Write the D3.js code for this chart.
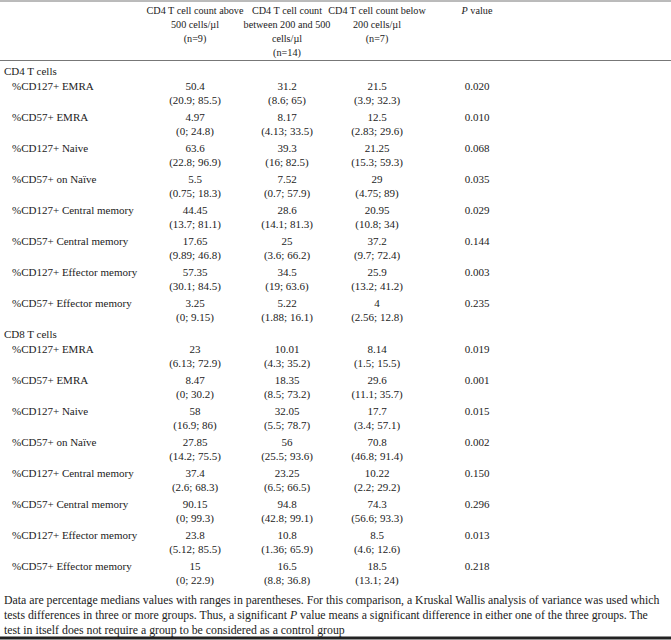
<!DOCTYPE html>
<html>
<head>
<meta charset="utf-8">
<script src="https://cdn.jsdelivr.net/npm/d3@7"></script>
<style>
  body { margin: 0; background: #fff; }
  svg text { font-family: "Liberation Serif", "DejaVu Serif", serif; font-size: 11px; fill: #222; }
  svg text.head { font-size: 10.2px; }
  svg text.note { font-size: 11.8px; }
</style>
</head>
<body>
<svg id="table" width="671" height="640"></svg>
<script>
// column headers (one array of lines per column)
const colHeaders = [
  ["CD4 T cell count above", "500 cells/\u00b5l", "(n=9)"],
  ["CD4 T cell count", "between 200 and 500", "cells/\u00b5l", "(n=14)"],
  ["CD4 T cell count below", "200 cells/\u00b5l", "(n=7)"]
];

const groups = ["CD4 T cells", "CD8 T cells"];
const markers = [
  "%CD127+ EMRA", "%CD57+ EMRA", "%CD127+ Naive", "%CD57+ on Na\u00efve",
  "%CD127+ Central memory", "%CD57+ Central memory",
  "%CD127+ Effector memory", "%CD57+ Effector memory"
];

// medians, one row per marker, columns = above 500 / 200-500 / below 200
const cd4Median = [
  [50.4, 31.2, 21.5], [4.97, 8.17, 12.5], [63.6, 39.3, 21.25], [5.5, 7.52, 29],
  [44.45, 28.6, 20.95], [17.65, 25, 37.2], [57.35, 34.5, 25.9], [3.25, 5.22, 4]
];
const cd4Range = [
  [[20.9, 85.5], [8.6, 65], [3.9, 32.3]],
  [[0, 24.8], [4.13, 33.5], [2.83, 29.6]],
  [[22.8, 96.9], [16, 82.5], [15.3, 59.3]],
  [[0.75, 18.3], [0.7, 57.9], [4.75, 89]],
  [[13.7, 81.1], [14.1, 81.3], [10.8, 34]],
  [[9.89, 46.8], [3.6, 66.2], [9.7, 72.4]],
  [[30.1, 84.5], [19, 63.6], [13.2, 41.2]],
  [[0, 9.15], [1.88, 16.1], [2.56, 12.8]]
];
const cd4P = [0.020, 0.010, 0.068, 0.035, 0.029, 0.144, 0.003, 0.235];

const cd8Median = [
  [23, 10.01, 8.14], [8.47, 18.35, 29.6], [58, 32.05, 17.7], [27.85, 56, 70.8],
  [37.4, 23.25, 10.22], [90.15, 94.8, 74.3], [23.8, 10.8, 8.5], [15, 16.5, 18.5]
];
const cd8Range = [
  [[6.13, 72.9], [4.3, 35.2], [1.5, 15.5]],
  [[0, 30.2], [8.5, 73.2], [11.1, 35.7]],
  [[16.9, 86], [5.5, 78.7], [3.4, 57.1]],
  [[14.2, 75.5], [25.5, 93.6], [46.8, 91.4]],
  [[2.6, 68.3], [6.5, 66.5], [2.2, 29.2]],
  [[0, 99.3], [42.8, 99.1], [56.6, 93.3]],
  [[5.12, 85.5], [1.36, 65.9], [4.6, 12.6]],
  [[0, 22.9], [8.8, 36.8], [13.1, 24]]
];
const cd8P = [0.019, 0.001, 0.015, 0.002, 0.150, 0.296, 0.013, 0.218];

const footnote = [
  [["Data are percentage medians values with ranges in parentheses. For this comparison, a Kruskal Wallis analysis of variance was used which", false]],
  [["tests differences in three or more groups. Thus, a significant ", false], ["P", true], [" value means a significant difference in either one of the three groups. The", false]],
  [["test in itself does not require a group to be considered as a control group", false]]
];

const svg = d3.select("#table");
const fmtP = d3.format(".3f");
const rangeText = r => "(" + r[0] + "; " + r[1] + ")";

// column centres: 3 groups + P value
const x = d3.scaleOrdinal().domain([0, 1, 2, 3]).range([195, 287, 377, 477]);

// header
svg.append("line").attr("x1", 0).attr("x2", 671).attr("y1", 1).attr("y2", 1)
  .attr("stroke", "#777").attr("stroke-width", 1);

const hy = d3.scaleLinear().domain([0, 3]).range([10, 52]);
colHeaders.forEach((lines, c) => {
  svg.append("g").selectAll("text").data(lines).join("text").attr("class", "head")
    .attr("x", x(c)).attr("y", (d, i) => hy(i)).attr("dy", "0.35em")
    .attr("text-anchor", "middle").text(d => d);
});
const pHead = svg.append("text").attr("class", "head").attr("x", x(3)).attr("y", hy(0)).attr("dy", "0.35em")
  .attr("text-anchor", "middle");
pHead.append("tspan").attr("font-style", "italic").text("P");
pHead.append("tspan").text(" value");

svg.append("line").attr("x1", 0).attr("x2", 671).attr("y1", 60.5).attr("y2", 60.5)
  .attr("stroke", "#777").attr("stroke-width", 1);

// body blocks
const blocks = [
  {name: groups[0], median: cd4Median, range: cd4Range, p: cd4P, y: d3.scaleLinear().domain([0, 7]).range([86, 303])},
  {name: groups[1], median: cd8Median, range: cd8Range, p: cd8P, y: d3.scaleLinear().domain([0, 7]).range([349, 566])}
];

blocks.forEach(b => {
  const g = svg.append("g");
  g.append("text").attr("x", 4).attr("y", b.y(0) - 15).attr("dy", "0.35em").text(b.name);

  const rows = g.selectAll("g.row").data(markers).join("g").attr("class", "row");
  rows.append("text").attr("x", 12).attr("y", (d, i) => b.y(i)).attr("dy", "0.35em").text(d => d);

  rows.each(function(d, i) {
    const r = d3.select(this);
    r.selectAll("text.med").data(b.median[i]).join("text").attr("class", "med")
      .attr("x", (v, c) => x(c)).attr("y", b.y(i)).attr("dy", "0.35em")
      .attr("text-anchor", "middle").text(v => String(v));
    r.selectAll("text.rng").data(b.range[i]).join("text").attr("class", "rng")
      .attr("x", (v, c) => x(c)).attr("y", b.y(i) + 14).attr("dy", "0.35em")
      .attr("text-anchor", "middle").text(rangeText);
    r.append("text").attr("x", x(3)).attr("y", b.y(i)).attr("dy", "0.35em")
      .attr("text-anchor", "middle").text(fmtP(b.p[i]));
  });
});

// footnote
const fy = d3.scaleLinear().domain([0, 2]).range([600, 630]);
footnote.forEach((parts, i) => {
  const t = svg.append("text").attr("class", "note").attr("x", 4).attr("y", fy(i)).attr("dy", "0.35em");
  parts.forEach(p => t.append("tspan").attr("font-style", p[1] ? "italic" : null).text(p[0]));
});

svg.append("line").attr("x1", 0).attr("x2", 671).attr("y1", 638).attr("y2", 638)
  .attr("stroke", "#222").attr("stroke-width", 3);
</script>
</body>
</html>
